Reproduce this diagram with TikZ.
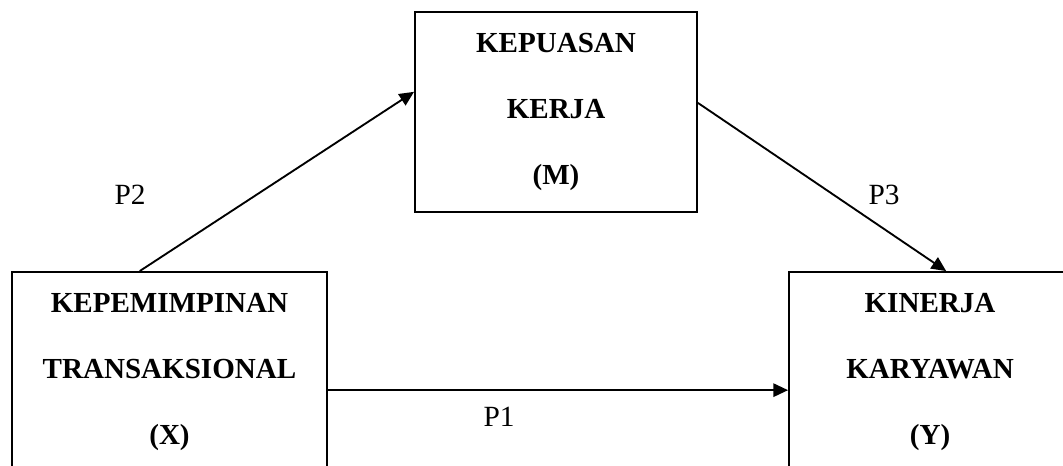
\documentclass[tikz,border=0pt]{standalone}
\usepackage{fontspec}
\setmainfont{Liberation Serif}
\usetikzlibrary{arrows.meta,calc}

\begin{document}
\begin{tikzpicture}[
    x=0.75pt, y=-0.75pt,
    var/.style={draw, line width=1.4pt, minimum width=#1, minimum height=150pt,
                align=center, inner sep=0pt,
                font=\bfseries\fontsize{21.8}{49.5}\selectfont},
    arr/.style={-{Triangle[length=11pt,width=10pt]}, line width=1.4pt},
    lbl/.style={font=\fontsize{22}{26}\selectfont},
  ]
  \clip (0,0) rectangle (1063,466);
  \node[var=236pt]   (lead) at (169.5,372) {KEPEMIMPINAN\\TRANSAKSIONAL\\(X)};
  \node[var=211.5pt] (sat)  at (556,112)   {KEPUASAN\\KERJA\\(M)};
  \node[var=211.5pt] (perf) at (930,372)   {KINERJA\\KARYAWAN\\(Y)};
  \coordinate (p1start) at ($(lead.north east)!0.59!(lead.south east)$);
  \draw[arr] ($(lead.north west)!0.406!(lead.north east)$) -- ($(sat.north west)!0.4!(sat.south west)$);
  \draw[arr] ($(sat.north east)!0.455!(sat.south east)$) -- ($(perf.north west)!0.557!(perf.north east)$);
  \draw[arr] (p1start) -- (p1start -| perf.west);
  % path labels
  \node[lbl] (p2) at (130,195) {P2};
  \node[lbl] (p3) at (884,195) {P3};
  \node[lbl] (p1) at (499,417) {P1};
\end{tikzpicture}
\end{document}
